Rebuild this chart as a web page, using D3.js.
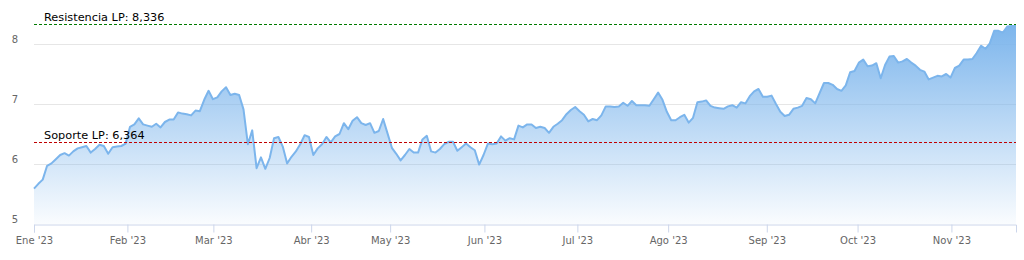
<!DOCTYPE html>
<html>
<head>
<meta charset="utf-8">
<script src="https://cdn.jsdelivr.net/npm/d3@7"></script>
<style>
body { margin: 0; background: #fff; }
svg { display: block; }
</style>
</head>
<body>
<div id="chart"></div>
<script>
// cierres diarios (ordinal, un punto por sesion)
var closes = [
    5.59, 5.67, 5.74, 5.97, 6.01, 6.08, 6.15, 6.18, 6.14, 6.21, 6.26, 6.28, 6.30, 6.19, 6.25, 6.32, 6.30, 6.17, 6.28, 6.29,
    6.30, 6.34, 6.62, 6.66, 6.76, 6.66, 6.64, 6.62, 6.67, 6.61, 6.70, 6.74, 6.74, 6.86, 6.84, 6.83, 6.81, 6.89, 6.88, 7.07,
    7.22, 7.08, 7.11, 7.21, 7.28,
    7.15, 7.17, 7.15, 6.91, 6.33, 6.56, 5.93, 6.11, 5.92, 6.10, 6.43, 6.45, 6.29, 6.01, 6.12, 6.21, 6.33, 6.48, 6.45, 6.15,
    6.26, 6.33, 6.45, 6.36, 6.46, 6.50, 6.68, 6.58, 6.72, 6.78, 6.68, 6.65, 6.68, 6.52, 6.55, 6.75, 6.51, 6.27, 6.17, 6.06,
    6.15, 6.25, 6.19, 6.19, 6.41,
    6.47, 6.21, 6.19, 6.25, 6.33, 6.37, 6.37, 6.22, 6.28, 6.34, 6.28, 6.23, 5.99, 6.15, 6.34, 6.33, 6.34, 6.46, 6.39, 6.43,
    6.41, 6.64, 6.61, 6.66, 6.66, 6.60, 6.62, 6.60, 6.52, 6.62, 6.67, 6.73, 6.83, 6.90, 6.95, 6.88, 6.82, 6.71, 6.75, 6.73,
    6.81, 6.96, 6.96,
    6.95, 6.96, 7.02, 6.97, 7.05, 6.98, 6.98, 6.98, 6.97, 7.08, 7.19, 7.07, 6.87, 6.73, 6.73, 6.78, 6.82, 6.69, 6.77, 7.03,
    7.04, 7.06, 6.97, 6.94, 6.93, 6.92, 6.96, 6.98, 6.94, 7.03, 7.01, 7.13, 7.21, 7.25, 7.12, 7.12, 7.14, 7.00, 6.87, 6.80,
    6.82, 6.92, 6.94, 6.97, 7.10,
    7.08, 7.01, 7.18, 7.35, 7.35, 7.32, 7.25, 7.22, 7.31, 7.53, 7.55, 7.69, 7.74, 7.63, 7.64, 7.68, 7.43, 7.65, 7.79, 7.80,
    7.69, 7.71, 7.75, 7.69, 7.64, 7.57, 7.54, 7.41, 7.44, 7.47, 7.46, 7.50, 7.44, 7.60, 7.64, 7.74, 7.74, 7.75, 7.85, 7.97,
    7.92, 8.01, 8.22, 8.22, 8.19, 8.29, 8.30, 8.30
];

var monthLabels = ["Ene '23", "Feb '23", "Mar '23", "Abr '23", "May '23", "Jun '23", "Jul '23", "Ago '23", "Sep '23", "Oct '23", "Nov '23"];
// posicion (indice de sesion) del inicio de cada mes
var monthTicks = [0, 21.4, 41.1, 63.5, 81.6, 103.2, 124.5, 145.3, 167.9, 188.7, 210.2];

var yTicks = [5, 6, 7, 8];

var levels = [
    {"name": "Resistencia LP: 8,336", "value": 8.336, "color": "#007a00"},
    {"name": "Soporte LP: 6,364", "value": 6.364, "color": "#c00000"}
];

var canvasWidth = 1024;
var canvasHeight = 260;
var margin = {top: 14, right: 8, bottom: 36, left: 34};
var width = canvasWidth - margin.left - margin.right;
var height = canvasHeight - margin.top - margin.bottom;

var svg = d3.select("#chart").append("svg")
    .attr("width", canvasWidth)
    .attr("height", canvasHeight)
    .style("font-family", "'DejaVu Sans', sans-serif");

var x = d3.scaleLinear()
    .domain([0, closes.length - 1])
    .range([margin.left, margin.left + width]);

var y = d3.scaleLinear()
    .domain([5, 8.5])
    .range([margin.top + height, margin.top]);

var defs = svg.append("defs");
var grad = defs.append("linearGradient")
    .attr("id", "areaFill")
    .attr("gradientUnits", "userSpaceOnUse")
    .attr("x1", 0).attr("x2", 0)
    .attr("y1", y(8.336)).attr("y2", y(5));
grad.append("stop").attr("offset", "0%").attr("stop-color", "#7cb5ec").attr("stop-opacity", 1);
grad.append("stop").attr("offset", "100%").attr("stop-color", "#7cb5ec").attr("stop-opacity", 0.04);

// grid
var yAxis = d3.axisLeft(y)
    .tickValues(yTicks)
    .tickSize(-width)
    .tickFormat(d3.format("d"));
var gy = svg.append("g")
    .attr("transform", "translate(" + margin.left + ",0)")
    .call(yAxis);
gy.select(".domain").remove();
gy.selectAll(".tick line")
    .attr("stroke", function(d) { return d == 5 ? "none" : "#e6e6e6"; });
gy.selectAll(".tick text")
    .attr("x", -16)
    .attr("dy", "-0.2em")
    .attr("fill", "#666")
    .style("font-size", "10px")
    .style("font-family", "'DejaVu Sans', sans-serif");

// area + line
var area = d3.area()
    .x(function(d, i) { return x(i); })
    .y0(y(5))
    .y1(function(d) { return y(d); });
var line = d3.line()
    .x(function(d, i) { return x(i); })
    .y(function(d) { return y(d); });

svg.append("path")
    .datum(closes)
    .attr("d", area)
    .attr("fill", "url(#areaFill)");
svg.append("path")
    .datum(closes)
    .attr("d", line)
    .attr("fill", "none")
    .attr("stroke", "#7cb5ec")
    .attr("stroke-width", 2)
    .attr("stroke-linejoin", "round");

// x axis
var xAxis = d3.axisBottom(x)
    .tickValues(monthTicks)
    .tickSize(8)
    .tickFormat(function(d, i) { return monthLabels[i]; });
var gx = svg.append("g")
    .attr("transform", "translate(0," + (y(5) + 0.5) + ")")
    .call(xAxis);
gx.select(".domain").attr("stroke", "#ccd6eb");
gx.selectAll(".tick line").attr("stroke", "#ccd6eb");
gx.selectAll(".tick text")
    .attr("y", 12)
    .attr("fill", "#666")
    .style("font-size", "10px")
    .style("font-family", "'DejaVu Sans', sans-serif");

// soporte / resistencia
for (var i = 0; i < levels.length; i++) {
    var ly = Math.round(y(levels[i].value)) + 0.5;
    svg.append("line")
        .attr("x1", margin.left)
        .attr("x2", margin.left + width)
        .attr("y1", ly)
        .attr("y2", ly)
        .attr("stroke", levels[i].color)
        .attr("stroke-width", 1)
        .attr("stroke-dasharray", "3,2");
    svg.append("text")
        .attr("x", margin.left + 10)
        .attr("y", ly - 4)
        .attr("fill", "#000")
        .style("font-size", "11.3px")
        .text(levels[i].name);
}
</script>
</body>
</html>
